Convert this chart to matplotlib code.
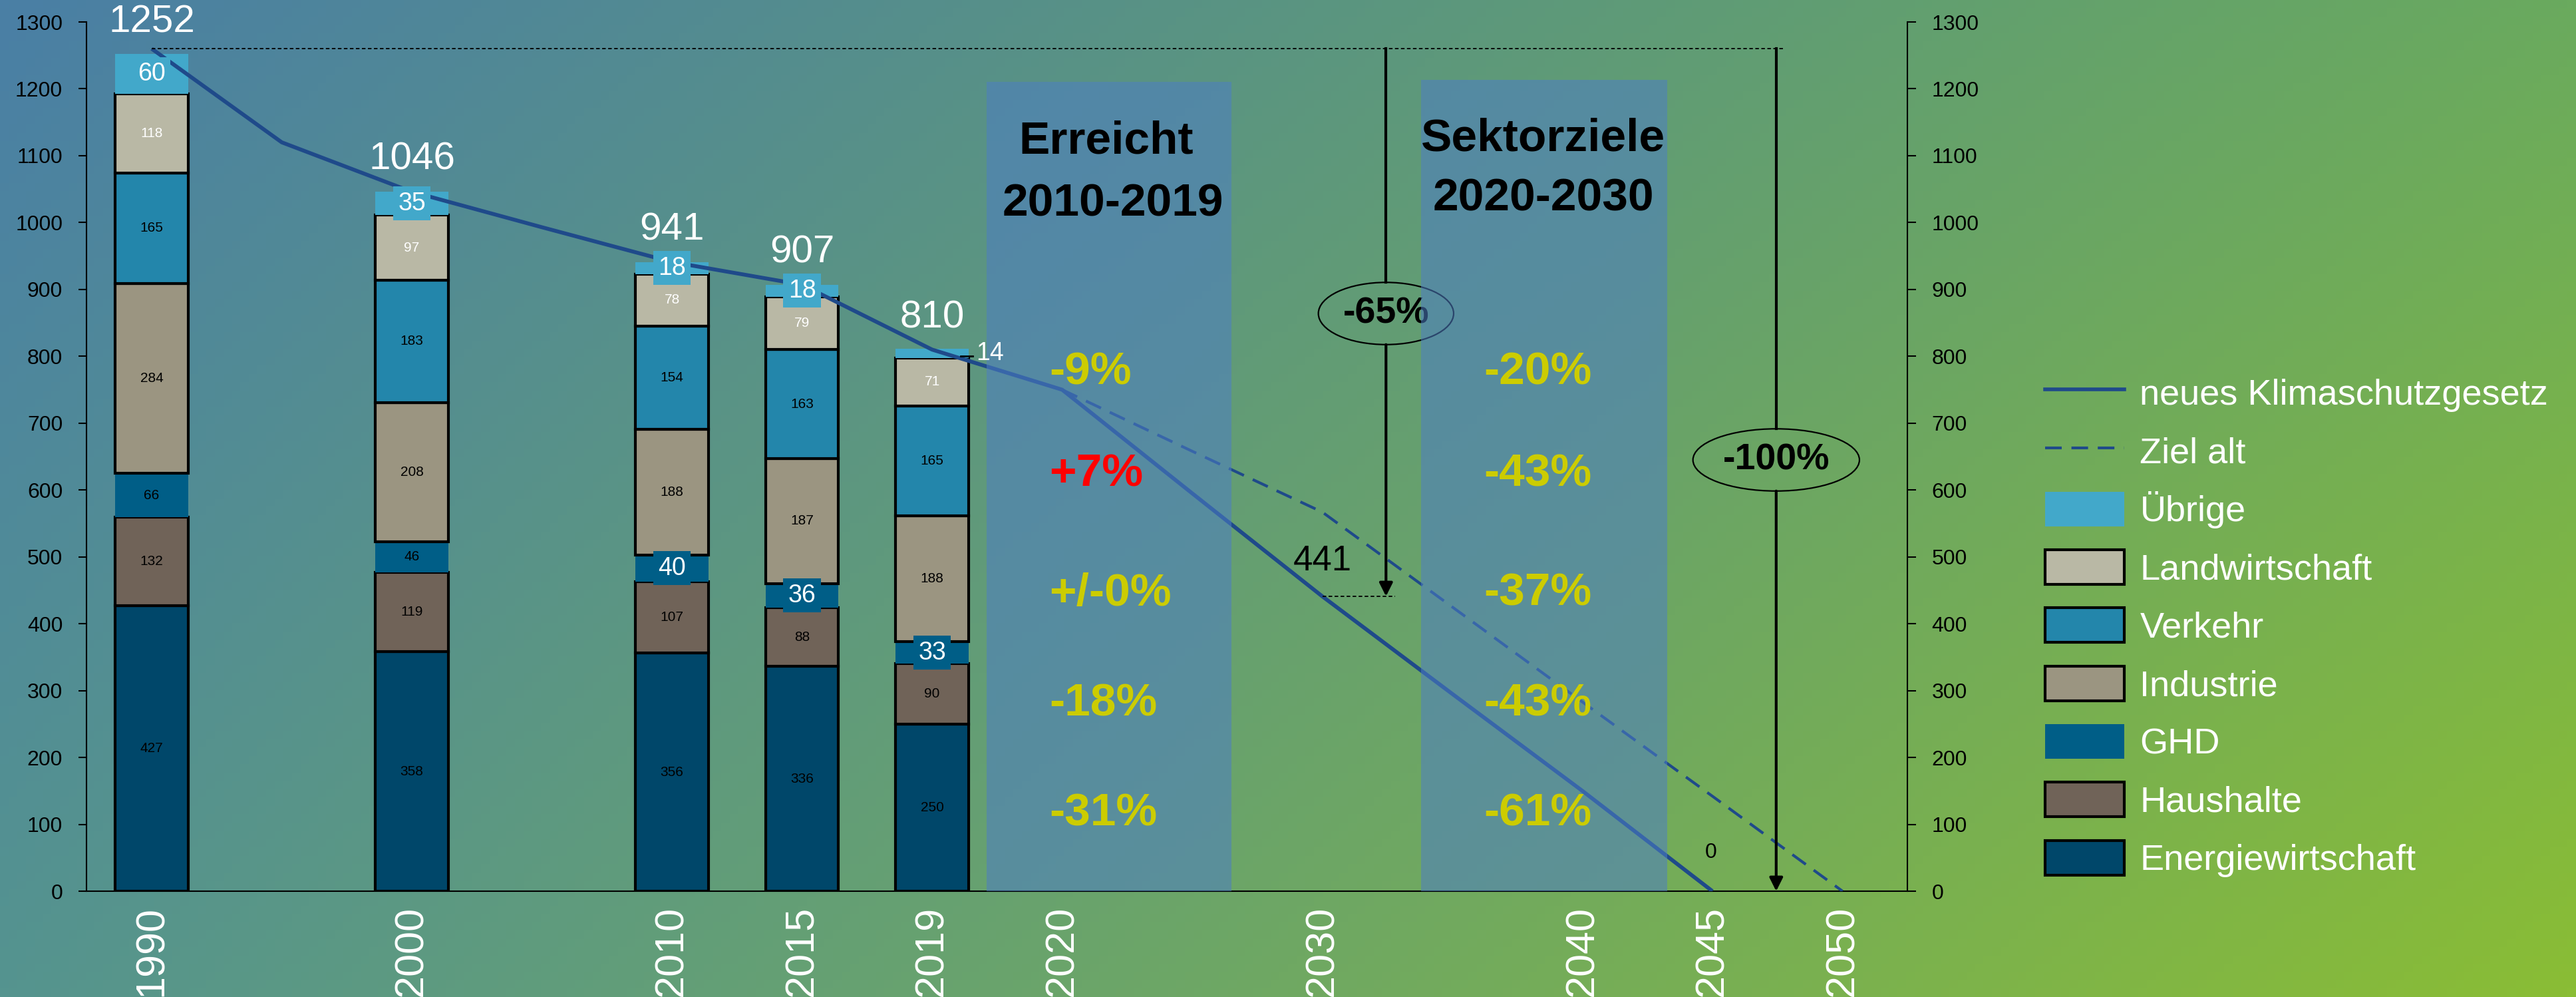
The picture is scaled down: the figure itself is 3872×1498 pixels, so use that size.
import numpy as np
import matplotlib
matplotlib.use('Agg')
import matplotlib.pyplot as plt
from matplotlib.patches import Rectangle, Ellipse, Patch
from matplotlib.lines import Line2D

plt.rcParams['font.family'] = ['Liberation Sans', 'DejaVu Sans']

# x axis categories (some are left without a label)
years = ['1990', '1995', '2000', '2005', '2010', '2015', '2019', '2020',
         '2025', '2030', '2035', '2040', '2045', '2050']
year_labels = ['1990', '', '2000', '', '2010', '2015', '2019', '2020',
               '', '2030', '', '2040', '2045', '2050']

# emissions per sector (Mio. t CO2-eq)
bar_years = ['1990', '2000', '2010', '2015', '2019']
energie = [427, 358, 356, 336, 250]
haushalte = [132, 119, 107, 88, 90]
ghd = [66, 46, 40, 36, 33]
industrie = [284, 208, 188, 187, 188]
verkehr = [165, 183, 154, 163, 165]
landwirtschaft = [118, 97, 78, 79, 71]
uebrige = [60, 35, 18, 18, 14]
totals = [1252, 1046, 941, 907, 810]

nan = np.nan
klimaschutz = [1260, 1120, 1046, 993, 941, 907, 810, 750, 595, 441, 295, 150, 0, nan]
ziel_alt = [nan, nan, nan, nan, nan, nan, nan, 750, 658, 567, 425, 283, 142, 0]

erreicht = ['-9%', '+7%', '+/-0%', '-18%', '-31%']
sektorziele = ['-20%', '-43%', '-37%', '-43%', '-61%']

LINE_COL = '#1F4A8A'

fig = plt.figure(figsize=(38.72, 14.98), dpi=100)

# background gradient
ax_bg = fig.add_axes([0, 0, 1, 1])
tl = np.array([74, 127, 165]) / 255
tr = np.array([106, 170, 94]) / 255
bl = np.array([85, 148, 143]) / 255
br = np.array([138, 189, 53]) / 255
u = np.linspace(0, 1, 300)[None, :, None]
v = np.linspace(0, 1, 120)[:, None, None]
grad = (1 - v) * ((1 - u) * tl + u * tr) + v * ((1 - u) * bl + u * br)
ax_bg.imshow(grad, aspect='auto', extent=(0, 1, 0, 1), origin='upper')
ax_bg.axis('off')

ax = fig.add_axes([0.03364, 0.10614, 0.70687, 0.87183])
ax.patch.set_alpha(0)
x = np.arange(len(years))
ax.set_xlim(-0.5, 13.5)
ax.set_ylim(0, 1300)

# stacked bars
sectors = [
    ('Energiewirtschaft', energie, '#00476A', True, 'black', False),
    ('Haushalte', haushalte, '#706358', True, 'black', False),
    ('GHD', ghd, '#005E87', False, 'black', True),
    ('Industrie', industrie, '#9B9581', True, 'black', False),
    ('Verkehr', verkehr, '#2386AB', True, 'black', False),
    ('Landwirtschaft', landwirtschaft, '#B9B8A5', True, 'white', False),
    ('Übrige', uebrige, '#42A8CA', False, 'white', True),
]
bx = np.array([years.index(y) for y in bar_years])
bottom = np.zeros(len(bar_years))
for name, vals, color, edge, tcol, boxed in sectors:
    vals = np.array(vals)
    ax.bar(bx, vals, width=0.56, bottom=bottom, color=color,
           edgecolor='black' if edge else 'none', linewidth=3, zorder=2)
    for i, (xi, b, v_) in enumerate(zip(bx, bottom, vals)):
        yc = b + v_ / 2
        if name == 'Übrige' and bar_years[i] == '2019':
            ax.plot([xi + 0.22, xi + 0.31], [yc - 4, yc - 4], color='black', lw=2, zorder=6)
            ax.text(xi + 0.34, yc, str(v_), color='white', fontsize=27,
                    ha='left', va='center', zorder=6)
        elif boxed and v_ < 60 and not (name == 'GHD' and v_ > 45):
            ax.text(xi, yc, str(v_), color='white', fontsize=27, ha='center', va='center',
                    zorder=6, bbox=dict(boxstyle='square,pad=0.2', fc=color, ec='none'))
        elif boxed and name == 'Übrige':
            ax.text(xi, yc, str(v_), color='white', fontsize=27, ha='center', va='center',
                    zorder=6, bbox=dict(boxstyle='square,pad=0.2', fc=color, ec='none'))
        else:
            ax.text(xi, yc, str(v_), color=tcol, fontsize=15, ha='center', va='center', zorder=6)
    bottom += vals

for xi, t in zip(bx, totals):
    ax.text(xi, t + 48, str(t), color='white', fontsize=42, ha='center', va='center', zorder=6)

# lines
ax.plot(x, klimaschutz, color=LINE_COL, lw=4.2, zorder=3, solid_capstyle='butt')
ax.plot(x, ziel_alt, color=LINE_COL, lw=3, ls=(0, (6, 3.5)), zorder=3)

i30 = years.index('2030')
i45 = years.index('2045')
ax.text(x[i30], klimaschutz[i30] + 53, str(klimaschutz[i30]), fontsize=38,
        ha='center', va='center', color='black', zorder=6)
ax.text(x[i45] - 0.01, klimaschutz[i45] + 58, str(klimaschutz[i45]), fontsize=23,
        ha='center', va='center', color='black', zorder=6)

# reference line at 1990 level and arrows
ax.plot([0, 12.56], [klimaschutz[0], klimaschutz[0]], color='black', lw=1.3,
        ls=(0, (3, 2)), zorder=3)
ax.plot([x[i30], 9.56], [klimaschutz[i30], klimaschutz[i30]], color='black', lw=1.3,
        ls=(0, (3, 2)), zorder=3)

arrow_kw = dict(arrowstyle='-|>,head_length=0.6,head_width=0.3', color='black', lw=3,
                shrinkA=0, shrinkB=0, mutation_scale=20)
for ax_x, ey, ew, label, target in [(9.49, 864, 1.04, '-65%', klimaschutz[i30]),
                                    (12.49, 645, 1.28, '-100%', 0)]:
    eh = 93
    ax.plot([ax_x, ax_x], [klimaschutz[0], ey + eh / 2], color='black', lw=3, zorder=3)
    ax.annotate('', xy=(ax_x, target), xytext=(ax_x, ey - eh / 2),
                arrowprops=arrow_kw, zorder=3)
    ax.add_patch(Ellipse((ax_x, ey), ew, eh, fc='none', ec='black', lw=1.6, zorder=3))
    ax.text(ax_x, ey, label, fontsize=40, fontweight='bold', ha='center', va='center',
            color='black', zorder=3)

# shaded boxes
ax.add_patch(Rectangle((6.42, 0), 1.88, 1210, fc='#4D7EC4', alpha=0.55, ec='none', zorder=4))
ax.add_patch(Rectangle((9.76, 0), 1.89, 1213, fc='#4D7EC4', alpha=0.55, ec='none', zorder=4))

ax.text(7.34, 1121, 'Erreicht', fontsize=50, fontweight='bold', ha='center', va='center', zorder=6)
ax.text(7.39, 1028, '2010-2019', fontsize=50, fontweight='bold', ha='center', va='center', zorder=6)
ax.text(10.70, 1125, 'Sektorziele', fontsize=50, fontweight='bold', ha='center', va='center', zorder=6)
ax.text(10.70, 1036, '2020-2030', fontsize=50, fontweight='bold', ha='center', va='center', zorder=6)

row_y = [776, 624, 445, 280, 116]
for ry, a, b in zip(row_y, erreicht, sektorziele):
    ax.text(6.90, ry, a, fontsize=50, fontweight='bold', ha='left', va='center',
            color='#FF0000' if a.startswith('+7') else '#CCCC00', zorder=6)
    ax.text(10.24, ry, b, fontsize=50, fontweight='bold', ha='left', va='center',
            color='#CCCC00', zorder=6)

# axes styling
ax.set_xticks(x)
ax.set_xticklabels(year_labels, rotation=90, color='white', fontsize=44)
ax.tick_params(axis='x', length=0, pad=16)
ax.set_yticks(range(0, 1301, 100))
ax.tick_params(axis='y', labelsize=23, length=9, width=1.5, pad=17, direction='out')
for s in ['top']:
    ax.spines[s].set_visible(False)
ax.spines['right'].set_visible(False)
ax.spines['left'].set_linewidth(1.5)
ax.spines['bottom'].set_linewidth(1.5)

ax2 = ax.twinx()
ax2.set_ylim(0, 1300)
ax2.set_yticks(range(0, 1301, 100))
ax2.tick_params(axis='y', labelsize=23, length=9, width=1.5, pad=17)
ax2.spines['top'].set_visible(False)
ax2.spines['left'].set_visible(False)
ax2.spines['bottom'].set_visible(False)
ax2.spines['right'].set_linewidth(1.5)

# legend
handles = [Line2D([], [], color=LINE_COL, lw=4),
           Line2D([], [], color=LINE_COL, lw=3, ls=(0, (6, 3.5)))]
labels = ['neues Klimaschutzgesetz', 'Ziel alt']
for name, vals, color, edge, tcol, boxed in reversed(sectors):
    handles.append(Patch(fc=color, ec='black' if edge else 'none', lw=3))
    labels.append(name)
leg = fig.legend(handles, labels, loc='center left', bbox_to_anchor=(3074 / 3872, 0.372),
                 frameon=False, fontsize=39, handlelength=2.2, handleheight=1.1,
                 handletextpad=0.43, labelspacing=0.59, borderpad=0, borderaxespad=0)
for t in leg.get_texts():
    t.set_color('white')

fig.savefig('out.png', dpi=100)
